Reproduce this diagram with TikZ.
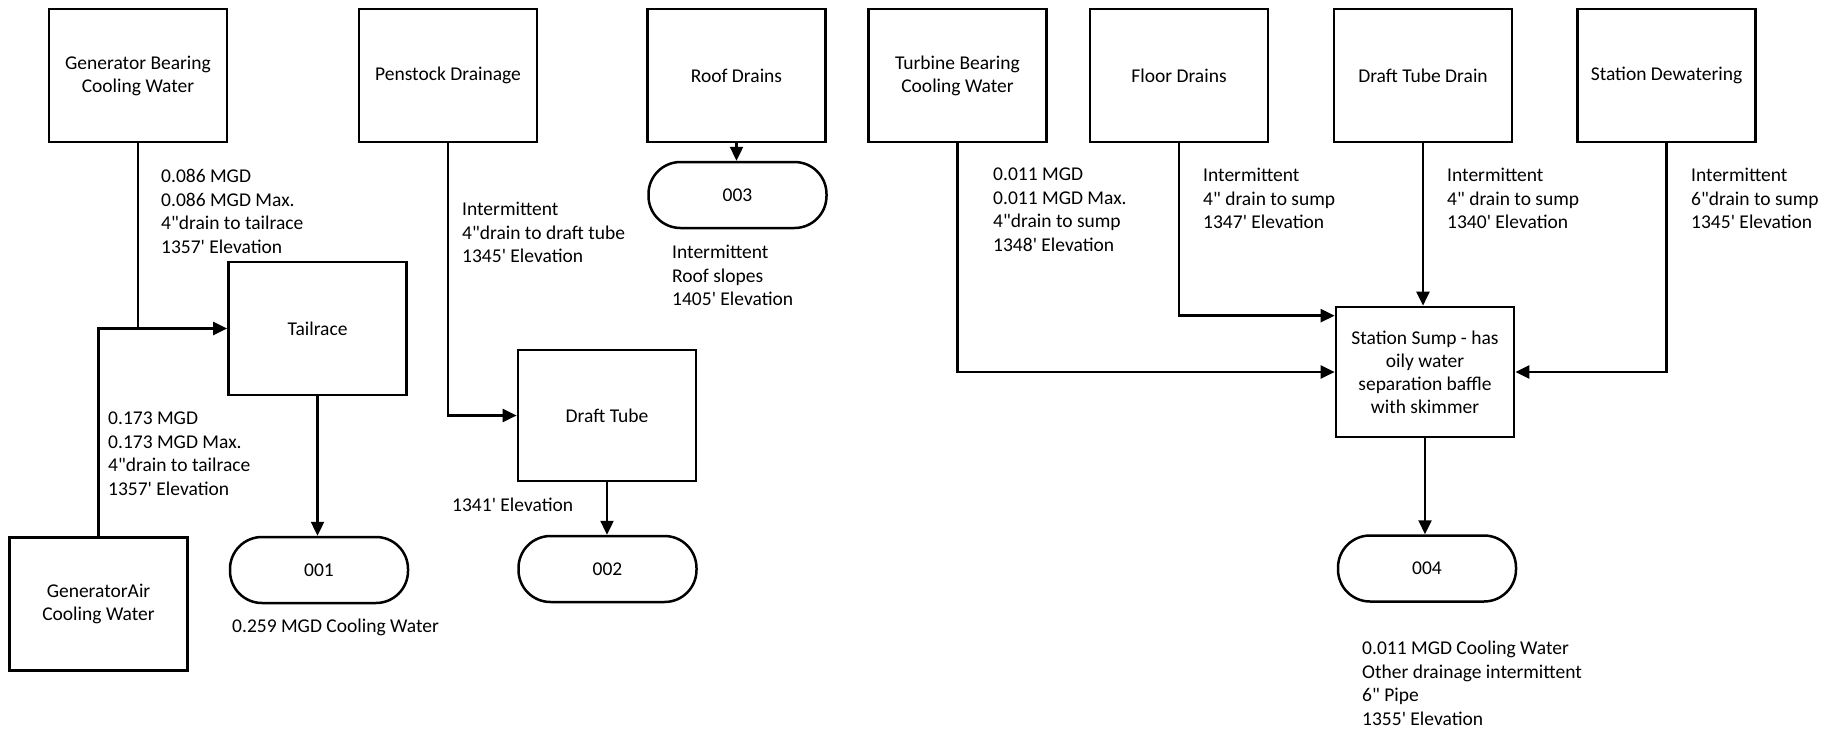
\documentclass[tikz,border=0pt]{standalone}
\usepackage{fontspec}
\setmainfont{Carlito}[Ligatures=TeXOff]
\usetikzlibrary{arrows.meta,calc}
\begin{document}
\begin{tikzpicture}[x=1pt,y=-1pt,
  box/.style={draw,line width=2.7pt,minimum width=178pt,minimum height=133pt,inner sep=2pt,align=center,font=\fontsize{19.5}{23}\selectfont},
  term/.style={draw,line width=2.5pt,rounded corners=32pt,minimum width=178pt,minimum height=66pt,inner sep=0pt,font=\fontsize{19.5}{22}\selectfont},
  lbl/.style={anchor=north west,inner sep=0pt,align=left,font=\fontsize{19.5}{23.5}\selectfont},
  flow/.style={line width=2.4pt,-{Triangle[length=14pt,width=13pt]}},
  pipe/.style={line width=2.4pt}]
\useasboundingbox[fill=white] (0,0) rectangle (1836,728);

% boxes
\node[box] (gb) at (138,75.5) {Generator Bearing\\Cooling Water};
\node[box] (pd) at (448,75.5) {Penstock Drainage};
\node[box] (rd) at (736.5,75.5) {Roof Drains};
\node[box] (tb) at (957.5,75.5) {Turbine Bearing\\Cooling Water};
\node[box] (fd) at (1179,75.5) {Floor Drains};
\node[box] (dtd) at (1423,75.5) {Draft Tube Drain};
\node[box] (sd) at (1666.5,75.5) {Station Dewatering};
\node[box] (tail) at (317.5,328.5) {Tailrace};
\node[box,minimum height=131pt] (dt) at (607,415.5) {Draft Tube};
\node[box] (ga) at (98.5,604) {GeneratorAir\\Cooling Water};
\node[box,minimum height=130pt] (sump) at (1425,372) {Station Sump - has\\oily water\\separation baffle\\with skimmer};

% terminals
\node[term] (o1) at (319,570) {001};
\node[term] (o2) at (607.5,569) {002};
\node[term] (o3) at (737.5,195) {003};
\node[term] (o4) at (1427,568.5) {004};

% connectors
\coordinate (j1) at (gb.south |- tail.west);
\draw[pipe] (gb.south) -- (j1);
\draw[flow] (ga.north) |- (tail.west);
\draw[flow] (tail.south) -- (tail.south |- o1.north);
\draw[flow] (pd.south) |- (dt.west);
\draw[flow] (dt.south) -- (dt.south |- o2.north);
\draw[flow] (rd.south) -- (rd.south |- o3.north);
\draw[flow] (tb.south) |- (sump.west);
\draw[flow] (fd.south) |- ([yshift=-10pt]sump.north west);
\draw[flow] (dtd.south) -- (dtd.south |- sump.north);
\draw[flow] (sd.south) |- (sump.east);
\draw[flow] (sump.south) -- (sump.south |- o4.north);

% labels
\node[lbl] (l1) at (161,169) {0.086 MGD\\0.086 MGD Max.\\4"drain to tailrace\\1357' Elevation};
\node[lbl] (l2) at (108,412) {0.173 MGD\\0.173 MGD Max.\\4"drain to tailrace\\1357' Elevation};
\node[lbl] (l3) at (462,202) {Intermittent\\4"drain to draft tube\\1345' Elevation};
\node[lbl] (l4) at (672,245) {Intermittent\\Roof slopes\\1405' Elevation};
\node[lbl] (l5) at (232,619) {0.259 MGD Cooling Water};
\node[lbl] (l6) at (452,498) {1341' Elevation};
\node[lbl] (l7) at (993,168) {0.011 MGD\\0.011 MGD Max.\\4"drain to sump\\1348' Elevation};
\node[lbl] (l8) at (1203,168) {Intermittent\\4" drain to sump\\1347' Elevation};
\node[lbl] (l9) at (1447,168) {Intermittent\\4" drain to sump\\1340' Elevation};
\node[lbl] (l10) at (1691,168) {Intermittent\\6"drain to sump\\1345' Elevation};
\node[lbl] (l11) at (1362,641) {0.011 MGD Cooling Water\\Other drainage intermittent\\6" Pipe\\1355' Elevation};
\end{tikzpicture}
\end{document}
